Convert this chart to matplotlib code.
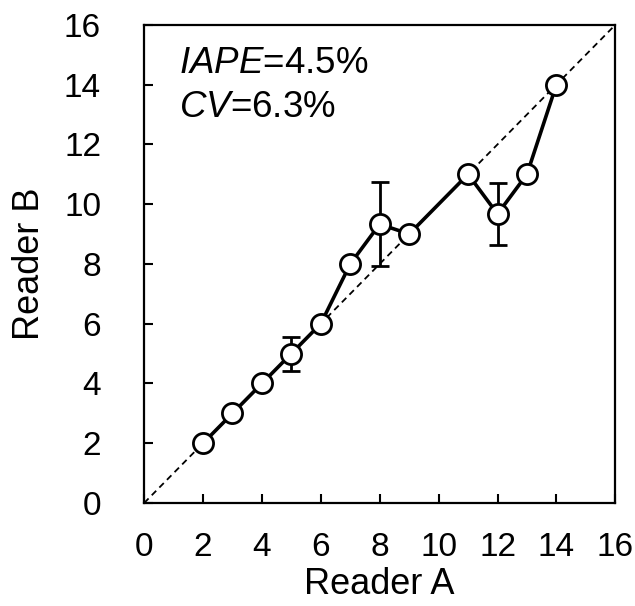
import matplotlib.pyplot as plt

plt.rcParams['font.family'] = ['Liberation Sans', 'DejaVu Sans']
plt.rcParams['mathtext.fontset'] = 'custom'
plt.rcParams['mathtext.rm'] = 'Liberation Sans'
plt.rcParams['mathtext.it'] = 'Liberation Sans:italic'

# age readings (Reader A vs mean Reader B)
readerA = [2, 3, 4, 5, 6, 7, 8, 9, 11, 12, 13, 14]
readerB = [2, 3, 4, 5, 6, 8, 9.33, 9, 11, 9.67, 11, 14]
errB = [0, 0, 0, 0.57, 0, 0, 1.4, 0, 0, 1.05, 0, 0]
ticks = [0, 2, 4, 6, 8, 10, 12, 14, 16]

fig = plt.figure(figsize=(6.35, 6.06), dpi=100)
ax = fig.add_axes([0.227, 0.170, 0.742, 0.789])

ax.plot([0, 16], [0, 16], '--', color='black', lw=1.3, dashes=(3.5, 2.5), zorder=1)
ax.errorbar(readerA, readerB, yerr=errB,
            color='black', lw=2.6, marker='o', ms=14.5, mfc='white',
            mec='black', mew=2, ecolor='black', elinewidth=2,
            capsize=6.5, capthick=2, zorder=3)

ax.set_xlim(0, 16)
ax.set_ylim(0, 16)
ax.set_xticks(ticks)
ax.set_yticks(ticks)
ax.tick_params(direction='in', length=6.5, width=1.5, labelsize=24)
ax.tick_params(axis='y', pad=31)
ax.tick_params(axis='x', pad=21)
for s in ax.spines.values():
    s.set_linewidth(1.6)
ax.set_xlabel('Reader A', fontsize=26, labelpad=3)
ax.set_ylabel('Reader B', fontsize=26, labelpad=12)

ax.text(1.2, 14.38, r'$\mathit{IAPE}$=4.5%', fontsize=26.5, va='baseline')
ax.text(1.2, 12.91, r'$\mathit{CV}$=6.3%', fontsize=26.5, va='baseline')

fig.savefig('out.png', dpi=100)
